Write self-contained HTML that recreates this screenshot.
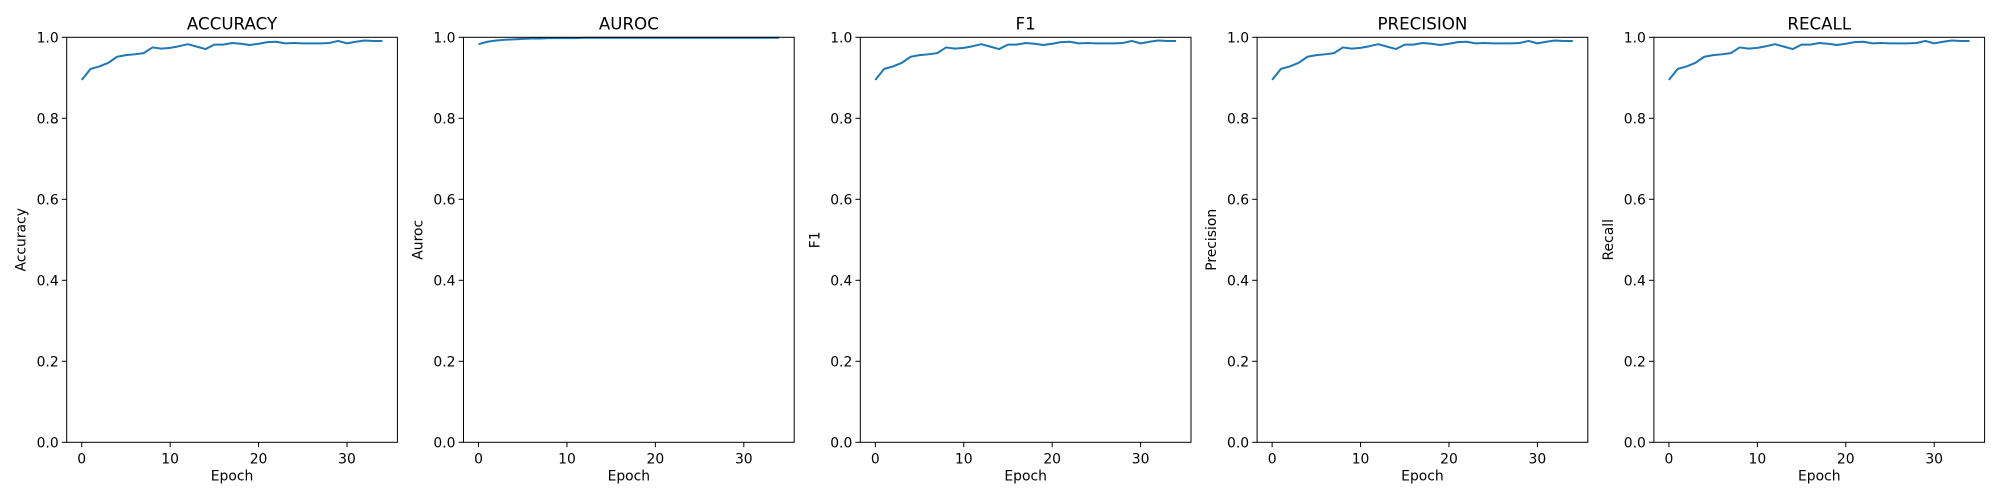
<!DOCTYPE html>
<html><head><meta charset="utf-8"><style>
html,body{margin:0;padding:0;background:#fff;}
svg{display:block;font-family:"DejaVu Sans","Liberation Sans",sans-serif;}
</style></head><body>
<svg id="fig" width="2000" height="500" xmlns="http://www.w3.org/2000/svg"></svg>
<script>
const titles = ["ACCURACY","AUROC","F1","PRECISION","RECALL"];
const ylabels = ["Accuracy","Auroc","F1","Precision","Recall"];
const accuracy = [0.895,0.922,0.928,0.937,0.952,0.956,0.958,0.961,0.975,0.972,0.974,0.978,0.983,0.977,0.971,0.982,0.982,0.986,0.984,0.981,0.984,0.988,0.989,0.985,0.986,0.985,0.985,0.985,0.986,0.991,0.985,0.989,0.992,0.991,0.991];
const auroc = [0.983,0.989,0.992,0.994,0.995,0.996,0.997,0.997,0.998,0.998,0.998,0.998,0.999,0.999,0.999,0.999,0.999,0.999,0.999,0.999,0.999,0.999,0.999,0.999,0.999,0.999,0.999,0.999,0.999,0.999,0.999,0.999,0.999,0.999,0.999];
const f1 = accuracy.slice();
const precision = accuracy.slice();
const recall = accuracy.slice();
const seriesList = [accuracy, auroc, f1, precision, recall];
const xTicks = [0,10,20,30];
const yTicks = [0.0,0.2,0.4,0.6,0.8,1.0];

const NS="http://www.w3.org/2000/svg";
const svg=document.getElementById('fig');
function mk(tag,attrs,parent){const e=document.createElementNS(NS,tag);for(const k in attrs)e.setAttribute(k,attrs[k]);(parent||svg).appendChild(e);return e;}
const axLeft0=66.7, axStep=396.8, axW=330.7, axTop=37.3, axH=405;
const xMin=-1.7, xMax=35.7;
titles.forEach((t,i)=>{
  const L=axLeft0+i*axStep;
  const xs=v=>L+(v-xMin)/(xMax-xMin)*axW;
  const ys=v=>axTop+(1-v)*axH;
  const g=mk('g',{});
  
  
  const data=seriesList[i];
  const pts=data.map((v,k)=>xs(k).toFixed(2)+','+ys(v).toFixed(2)).join(' ');
  const line=mk('polyline',{points:pts,fill:'none',stroke:'#1f77b4','stroke-width':2,'stroke-linejoin':'round'},g);
  
  
  const frame=mk('rect',{x:L,y:axTop,width:axW,height:axH,fill:'none',stroke:'#000','stroke-width':1},g);
  
  
  xTicks.forEach(v=>{
    const x=xs(v);
    mk('line',{x1:x,x2:x,y1:axTop+axH,y2:axTop+axH+4.9,stroke:'#000','stroke-width':1},g);
    const tx=mk('text',{x:x,y:axTop+axH+21,'font-size':13.9,'text-anchor':'middle'},g);
    tx.textContent=v;
    
    
  });
  yTicks.forEach(v=>{
    const y=ys(v);
    mk('line',{x1:L-4.9,x2:L,y1:y,y2:y,stroke:'#000','stroke-width':1},g);
    const ty=mk('text',{x:L-8,y:y+5,'font-size':13.9,'text-anchor':'end'},g);
    ty.textContent=v.toFixed(1);
    
    
  });
  const xl=mk('text',{x:L+axW/2,y:axTop+axH+38,'font-size':13.9,'text-anchor':'middle'},g);
  xl.textContent='Epoch';
  
  
  const yl=mk('text',{x:0,y:0,'font-size':13.9,'text-anchor':'middle',transform:`translate(${L-41},${axTop+axH/2}) rotate(-90)`},g);
  yl.textContent=ylabels[i];
  
  
  const tt=mk('text',{x:L+axW/2,y:axTop-8,'font-size':16.7,'text-anchor':'middle'},g);
  tt.textContent=t;
  
  
});
</script>
</body></html>
